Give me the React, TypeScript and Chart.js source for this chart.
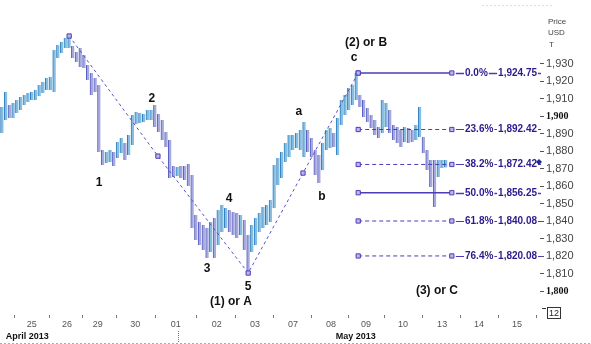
import React, { useEffect, useRef } from 'react';
import { Chart, registerables } from 'chart.js';
Chart.register(...registerables);

// Price bars (high / low, USD)
const barHigh = [
  1905.3, 1913.9, 1906.4, 1907.6, 1909.3, 1911.0, 1912.2, 1913.3, 1913.9, 1915.0,
  1917.9, 1919.6, 1921.9, 1922.5, 1937.9, 1940.8, 1942.5, 1944.8, 1945.9, 1940.2,
  1936.8, 1939.0, 1935.0, 1929.3, 1924.7, 1921.9, 1917.9, 1880.7, 1879.5, 1880.7,
  1879.5, 1885.3, 1887.6, 1884.7, 1889.3, 1900.7, 1902.4, 1901.9, 1901.3, 1903.6,
  1903.6, 1906.4, 1901.3, 1897.9, 1891.0, 1886.4, 1871.5, 1871.0, 1871.5, 1871.5,
  1872.7, 1866.4, 1843.5, 1839.5, 1837.8, 1836.1, 1839.5, 1841.8, 1846.4, 1849.2,
  1847.5, 1846.4, 1845.2, 1844.6, 1843.5, 1840.7, 1832.1, 1837.8, 1841.8, 1844.6,
  1848.1, 1849.2, 1852.1, 1872.1, 1876.1, 1879.5, 1884.7, 1889.3, 1889.3, 1890.4,
  1892.1, 1896.7, 1892.1, 1887.6, 1880.7, 1877.8, 1884.7, 1892.1, 1893.3, 1890.4,
  1899.0, 1909.3, 1912.2, 1916.2, 1917.9, 1924.75, 1912.2, 1909.3, 1904.7, 1900.7,
  1897.9, 1893.8, 1909.3, 1907.6, 1903.6, 1895.0, 1893.8, 1892.1, 1893.8, 1893.3,
  1892.1, 1895.0, 1905.3, 1888.1, 1880.7, 1875.0, 1875.0, 1875.0, 1875.0, 1875.0,
];
const barLow = [
  1890.4, 1897.9, 1899.0, 1899.0, 1901.9, 1903.6, 1906.4, 1908.2, 1909.3, 1909.3,
  1911.6, 1913.3, 1915.0, 1915.0, 1913.9, 1933.3, 1936.2, 1939.0, 1939.0, 1933.3,
  1931.0, 1928.2, 1927.6, 1920.7, 1912.2, 1913.9, 1879.5, 1872.1, 1873.3, 1873.8,
  1871.5, 1876.1, 1879.0, 1875.0, 1877.8, 1883.5, 1895.6, 1896.1, 1896.7, 1897.9,
  1897.9, 1893.8, 1891.0, 1886.4, 1882.4, 1864.7, 1865.2, 1865.8, 1864.7, 1863.5,
  1860.1, 1836.1, 1829.2, 1826.3, 1823.5, 1818.9, 1822.3, 1818.9, 1826.3, 1833.8,
  1836.1, 1833.8, 1832.1, 1830.3, 1832.1, 1823.5, 1810.3, 1822.3, 1826.3, 1833.8,
  1836.1, 1837.8, 1839.5, 1847.5, 1860.7, 1864.7, 1873.8, 1876.7, 1880.7, 1881.8,
  1880.7, 1876.7, 1879.5, 1876.7, 1866.4, 1861.8, 1869.3, 1880.7, 1881.8, 1882.4,
  1877.8, 1895.0, 1900.7, 1903.6, 1906.4, 1909.3, 1905.3, 1899.6, 1896.7, 1893.3,
  1889.3, 1887.6, 1890.4, 1893.8, 1890.4, 1886.4, 1884.7, 1882.4, 1885.3, 1884.7,
  1885.3, 1886.4, 1888.1, 1879.0, 1869.3, 1859.5, 1848.1, 1865.2, 1870.4, 1870.7,
];

// Time axis (bar index of each day start)
const dayTickPos = [8.0, 17.4, 25.7, 35.7, 46.6, 57.6, 67.8, 78.0, 88.2, 97.6, 107.5, 118.0, 127.9, 138.1];
const dayTickLabels = ['25', '26', '29', '30', '01', '02', '03', '07', '08', '09', '10', '13', '14', '15'];
const monthLabels = ['April 2013', 'May 2013'];
const monthLabelPos = [1.0, 89.5];
const monthBoundary = 47.2;

// Price axis
const priceTicks = [1930, 1920, 1910, 1900, 1890, 1880, 1870, 1860, 1850, 1840, 1830, 1820, 1810, 1800];
const lastPrice = 1873.8;

// Elliott wave path
const waveX = [18, 41.8, 66, 80.7, 95.5];
const waveY = [1945.9, 1877.2, 1810.3, 1867.5, 1924.75];
const waveLabelText = ['1', '2', '3', '4', '5', '(1) or A', 'a', 'b', 'c', '(2) or B', '(3) or C'];
const waveLabelX = [26.0, 40.2, 55.0, 60.9, 66.0, 61.4, 79.6, 85.8, 94.4, 97.6, 116.6];
const waveLabelY = [1861.8, 1909.9, 1812.6, 1852.7, 1802.3, 1793.7, 1902.4, 1853.8, 1933.3, 1941.9, 1800.0];

// Fibonacci retracement
const fibPct = ['0.0', '23.6', '38.2', '50.0', '61.8', '76.4'];
const fibVal = [1924.75, 1892.42, 1872.42, 1856.25, 1840.08, 1820.08];
const fibStartX = 95.5;
const fibEndX = 120.6;

const X_MIN = -0.54;
const X_MAX = 144.24;
const Y_MIN = 1786.3;
const Y_MAX = 1966.5;

const FIB_COLOR = '#4a3db5';
const FIB_TEXT = '#2b1a8c';

const fmt = (v: number) => v.toLocaleString('en-US', { minimumFractionDigits: 2, maximumFractionDigits: 2 });

const overlay = {
  id: 'overlay',
  afterDatasetsDraw(chart: any) {
    const { ctx, chartArea, scales } = chart;
    const xs = scales.x;
    const ys = scales.y;
    ctx.save();
    // Fibonacci labels and extensions
    ctx.font = 'bold 10px "Liberation Sans", Arial, sans-serif';
    ctx.textBaseline = 'middle';
    fibVal.forEach((v, i) => {
      const y = Math.round(ys.getPixelForValue(v)) + 0.5;
      const solid = i === 0 || i === 3;
      const pctText = fibPct[i] + '%';
      const valText = fmt(v);
      const pctX = chartArea.right - 75;
      const valRight = chartArea.right - 3;
      const wP = ctx.measureText(pctText).width;
      const wV = ctx.measureText(valText).width;
      const markerR = xs.getPixelForValue(fibEndX) + 4;
      ctx.strokeStyle = FIB_COLOR;
      ctx.lineWidth = solid ? 1.5 : 1;
      const seg = (a: number, b: number) => {
        if (b <= a) return;
        ctx.beginPath();
        ctx.moveTo(a, y);
        ctx.lineTo(b, y);
        ctx.stroke();
      };
      ctx.setLineDash([]);
      seg(markerR, pctX - 1);
      seg(pctX + wP + 1, valRight - wV - 1);
      seg(valRight + 1, chartArea.right + 1);
      ctx.fillStyle = FIB_TEXT;
      ctx.textAlign = 'left';
      ctx.fillText(pctText, pctX, y);
      ctx.textAlign = 'right';
      ctx.fillText(valText, valRight, y);
    });
    ctx.setLineDash([]);
    // current price marker
    const dy = ys.getPixelForValue(lastPrice);
    const dx = chartArea.right - 1;
    ctx.fillStyle = '#1b2a8a';
    ctx.beginPath();
    ctx.moveTo(dx, dy - 3);
    ctx.lineTo(dx + 3, dy);
    ctx.lineTo(dx, dy + 3);
    ctx.lineTo(dx - 3, dy);
    ctx.closePath();
    ctx.fill();
    // Wave labels
    ctx.font = 'bold 12px "Liberation Sans", Arial, sans-serif';
    ctx.fillStyle = '#111';
    ctx.textAlign = 'center';
    waveLabelText.forEach((t, i) => {
      ctx.fillText(t, xs.getPixelForValue(waveLabelX[i]), ys.getPixelForValue(waveLabelY[i]));
    });
    // Month labels
    ctx.font = 'bold 9px "Liberation Sans", Arial, sans-serif';
    ctx.textAlign = 'left';
    ctx.fillStyle = '#111';
    monthLabels.forEach((t, i) => {
      ctx.fillText(t, xs.getPixelForValue(monthLabelPos[i]), 337);
    });
    // month boundary
    const mb = Math.round(xs.getPixelForValue(monthBoundary)) + 0.5;
    ctx.strokeStyle = '#777';
    ctx.lineWidth = 1;
    ctx.setLineDash([1, 1]);
    ctx.beginPath();
    ctx.moveTo(mb, 331);
    ctx.lineTo(mb, 343);
    ctx.stroke();
    // bottom and top dashed rules
    ctx.strokeStyle = '#aaa';
    ctx.setLineDash([2, 2]);
    ctx.beginPath();
    ctx.moveTo(0, 343.5);
    ctx.lineTo(591, 343.5);
    ctx.stroke();
    ctx.strokeStyle = '#ddd';
    ctx.beginPath();
    ctx.moveTo(482, 5.5);
    ctx.lineTo(552, 5.5);
    ctx.stroke();
    ctx.setLineDash([]);
    // Axis title
    ctx.font = '8px "Liberation Sans", Arial, sans-serif';
    ctx.fillStyle = '#444';
    ctx.textAlign = 'left';
    ctx.fillText('Price', 548, 22);
    ctx.fillText('USD', 548, 33);
    ctx.fillText('T', 549, 45);
    // zoom box
    ctx.strokeStyle = '#333';
    ctx.lineWidth = 1;
    ctx.strokeRect(547.5, 307.5, 13, 11);
    ctx.beginPath();
    ctx.moveTo(542, 308.5);
    ctx.lineTo(546, 308.5);
    ctx.stroke();
    ctx.font = '9px "Liberation Sans", Arial, sans-serif';
    ctx.fillStyle = '#222';
    ctx.textAlign = 'center';
    ctx.fillText('12', 554, 313.5);
    ctx.restore();
  },
};

export default function App() {
  const ref = useRef<HTMLCanvasElement>(null);
  useEffect(() => {
    document.body.style.margin = '0';
    const canvas = ref.current;
    if (!canvas) return;

    const up = barHigh.map((h, i) => {
      if (i === 0) return true;
      return (h + barLow[i]) >= (barHigh[i - 1] + barLow[i - 1]);
    });

    const fibDatasets = fibVal.map((v, i) => ({
      type: 'line' as const,
      data: [{ x: fibStartX, y: v }, { x: fibEndX, y: v }],
      borderColor: FIB_COLOR,
      borderWidth: i === 0 || i === 3 ? 1.5 : 1,
      borderDash: i === 0 || i === 3 ? [] : [4, 3],
      pointStyle: 'rect',
      pointRadius: 3,
      pointBackgroundColor: '#bdb6ee',
      pointBorderColor: '#4a3db5',
      pointBorderWidth: 1,
      clip: false,
      order: 0,
    }));

    const chart = new Chart(canvas, {
      type: 'bar',
      data: {
        datasets: [
          {
            type: 'bar',
            data: barHigh.map((h, i) => ({ x: i, y: [barLow[i], h] })) as any,
            barThickness: 3,
            backgroundColor: up.map((u) => (u ? '#86bde0' : '#a7a9de')),
            borderColor: up.map((u) => (u ? '#2f80c0' : '#5560c0')),
            borderWidth: { left: 1, right: 0, top: 0, bottom: 0 } as any,
            borderSkipped: false,
            order: 2,
          } as any,
          {
            type: 'line',
            data: waveX.map((x, i) => ({ x, y: waveY[i] })),
            borderColor: '#5a4fc8',
            borderWidth: 1,
            borderDash: [3, 3],
            pointStyle: 'rect',
            pointRadius: 3,
            pointBackgroundColor: '#bdb6ee',
            pointBorderColor: '#4a3db5',
            pointBorderWidth: 1,
            clip: false,
            order: 1,
          } as any,
          ...(fibDatasets as any[]),
        ],
      },
      options: {
        animation: false,
        responsive: false,
        maintainAspectRatio: false,
        layout: { padding: 0, autoPadding: false },
        plugins: { legend: { display: false }, tooltip: { enabled: false } },
        scales: {
          x: {
            type: 'linear',
            min: X_MIN,
            max: X_MAX,
            offset: false,
            border: { display: false },
            grid: { drawOnChartArea: false, drawTicks: true, tickLength: 3, color: '#777' },
            afterBuildTicks: (scale: any) => {
              scale.ticks = dayTickPos.map((v) => ({ value: v }));
            },
            afterFit: (scale: any) => {
              scale.height = 29;
              scale.paddingLeft = 0;
              scale.paddingRight = 0;
            },
            ticks: {
              autoSkip: false,
              maxRotation: 0,
              padding: 1,
              color: '#555',
              font: { family: '"Liberation Sans", Arial, sans-serif', size: 9 },
              callback: (_v: any, idx: number) => dayTickLabels[idx],
            },
          },
          y: {
            type: 'linear',
            position: 'right',
            min: Y_MIN,
            max: Y_MAX,
            border: { display: false },
            grid: { drawOnChartArea: false, drawTicks: true, tickLength: 4, color: '#555' },
            afterBuildTicks: (scale: any) => {
              scale.ticks = priceTicks.map((v) => ({ value: v }));
            },
            afterFit: (scale: any) => {
              scale.width = 51;
              scale.paddingTop = 0;
              scale.paddingBottom = 0;
            },
            ticks: {
              autoSkip: false,
              padding: 2,
              color: (c: any) => (c.tick && c.tick.value % 100 === 0 ? '#111' : '#444'),
              font: (c: any) =>
                c.tick && c.tick.value % 100 === 0
                  ? { family: '"Liberation Serif", "Times New Roman", serif', size: 10, weight: 'bold' }
                  : { family: '"Liberation Sans", Arial, sans-serif', size: 11 },
              callback: (v: any) => Number(v).toLocaleString('en-US'),
            },
          },
        },
      },
      plugins: [overlay],
    } as any);
    return () => chart.destroy();
  }, []);

  return (
    <div style={{ width: 591, height: 344, background: '#fff' }}>
      <canvas ref={ref} width={591} height={344} style={{ display: 'block' }} />
    </div>
  );
}
